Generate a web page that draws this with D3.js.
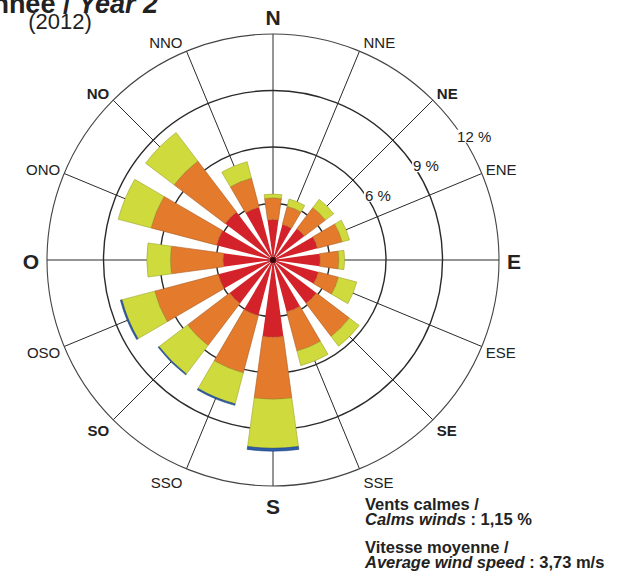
<!DOCTYPE html>
<html>
<head>
<meta charset="utf-8">
<script src="https://cdn.jsdelivr.net/npm/d3@7"></script>
<style>
  body { margin: 0; background: #fff; }
  svg { display: block; font-family: "Liberation Sans", Arial, sans-serif; }
</style>
</head>
<body>
<svg id="rose"></svg>
<script>
const W = 630, H = 577;
const cx = 273, cy = 260, R = 226;

// wind directions (French labels, clockwise from north)
const directions = ["N", "NNE", "NE", "ENE", "E", "ESE", "SE", "SSE",
                    "S", "SSO", "SO", "OSO", "O", "ONO", "NO", "NNO"];
const cardinals = ["N", "E", "S", "O"];
const boldDirs = ["NE", "SE", "SO", "NO"];

// frequency (%) per speed class, same order as directions
const speedClasses = ["c1", "c2", "c3", "c4"];
const class1 = [2.15, 1.95, 2.1, 2.45, 2.5, 2.5, 2.9, 2.85, 4.1, 3.05, 2.9, 3.0, 2.65, 3.1, 3.2, 2.9];
const class2 = [1.15, 1.0, 1.4, 1.35, 1.0, 1.1, 2.2, 2.15, 3.3, 3.15, 2.8, 3.5, 2.8, 3.6, 3.4, 1.6];
const class3 = [0.2, 0.4, 0.55, 0.4, 0.3, 1.0, 0.65, 0.8, 2.6, 1.7, 1.9, 1.8, 1.25, 1.8, 1.9, 0.9];
const class4 = [0, 0, 0, 0, 0, 0, 0, 0, 0.15, 0.08, 0.06, 0.08, 0, 0, 0, 0];
const classColors = ["#d3222a", "#e37a2c", "#cfdb3c", "#2d5ca8"];

const ringTicks = [3, 6, 9, 12];
const ringLabels = [6, 9, 12];

const svg = d3.select("#rose").attr("width", W).attr("height", H);
const g = svg.append("g").attr("transform", `translate(${cx},${cy})`);

const rows = directions.map((d, i) => ({
    dir: d, c1: class1[i], c2: class2[i], c3: class3[i], c4: class4[i]
}));

const stacked = d3.stack().keys(speedClasses)(rows);

const r = d3.scaleLinear().domain([0, 12]).range([0, R]);

const step = 2 * Math.PI / directions.length;
const ang = d3.scaleBand()
    .domain(directions)
    .range([-step / 2, 2 * Math.PI - step / 2])
    .paddingInner(0.31)
    .paddingOuter(0.155);

const pt = (a, rad) => [rad * Math.sin(a), -rad * Math.cos(a)];

// grid: spokes and rings
directions.forEach((d, i) => {
    const [x, y] = pt(i * step, R);
    g.append("line")
        .attr("x1", 0).attr("y1", 0).attr("x2", x).attr("y2", y)
        .attr("stroke", "#2a2a2a").attr("stroke-width", 1);
});

g.selectAll(".ring")
    .data(ringTicks)
    .join("circle")
    .attr("class", "ring")
    .attr("r", d => r(d))
    .attr("fill", "none")
    .attr("stroke", d => d === 12 ? "#444" : "#2a2a2a")
    .attr("stroke-width", d => d === 12 ? 1.1 : 1.4);

// bars
const arc = d3.arc()
    .innerRadius(d => r(d[0]))
    .outerRadius(d => r(d[1]))
    .startAngle(d => ang(d.data.dir))
    .endAngle(d => ang(d.data.dir) + ang.bandwidth());

g.selectAll(".layer")
    .data(stacked)
    .join("g")
    .attr("class", "layer")
    .attr("fill", (d, i) => classColors[i])
    .attr("stroke", (d, i) => i === 0 ? "none" : d3.color(classColors[i]).darker(0.8))
    .attr("stroke-width", 0.6)
    .selectAll("path")
    .data(d => d.filter(s => s[1] - s[0] > 0))
    .join("path")
    .attr("d", arc);

g.append("circle").attr("r", 3).attr("fill", "#3a0808");

// ring labels
const labA = 58.5 * Math.PI / 180;
ringLabels.forEach(v => {
    const [x, y] = pt(labA, r(v) + 10);
    const t = g.append("text")
        .attr("x", x).attr("y", y + 5)
        .attr("text-anchor", "middle")
        .attr("font-size", 15)
        .attr("fill", "#222")
        .text(`${v} %`);
    const bb = t.node().getBBox();
    g.insert("rect", "text")
        .attr("x", bb.x - 1).attr("y", bb.y + 2)
        .attr("width", bb.width + 2).attr("height", bb.height - 4)
        .attr("fill", "#fff");
});

// direction labels
directions.forEach((d, i) => {
    const a = i * step;
    const [x, y] = pt(a, R);
    if (cardinals.includes(d)) {
        const t = g.append("text")
            .attr("font-size", 21).attr("font-weight", "bold").attr("fill", "#222")
            .text(d);
        if (d === "N") t.attr("x", 0).attr("y", -R - 9).attr("text-anchor", "middle");
        if (d === "S") t.attr("x", 0).attr("y", R + 28).attr("text-anchor", "middle");
        if (d === "E") t.attr("x", R + 8).attr("y", 9).attr("text-anchor", "start");
        if (d === "O") t.attr("x", -R - 8).attr("y", 9).attr("text-anchor", "end");
        return;
    }
    const s = Math.sin(a), c = Math.cos(a);
    const dy = c > 0 ? -c * 9 : -c * 15;
    g.append("text")
        .attr("x", x + (s > 0 ? 4 : -4))
        .attr("y", y + dy + 5.3)
        .attr("text-anchor", s > 0 ? "start" : "end")
        .attr("font-size", 15)
        .attr("font-weight", boldDirs.includes(d) ? "bold" : "normal")
        .attr("fill", "#222")
        .text(d);
});

// title (cut at top of the picture)
const title = svg.append("text")
    .attr("x", 158).attr("y", 13)
    .attr("text-anchor", "end")
    .attr("font-size", 27).attr("font-weight", "bold").attr("fill", "#222");
title.append("tspan").text("Année / ");
title.append("tspan").attr("font-style", "italic").text("Year 2");

svg.append("text")
    .attr("x", 60).attr("y", 29)
    .attr("text-anchor", "middle")
    .attr("font-size", 22).attr("fill", "#222")
    .text("(2012)");

// notes
const notes = svg.append("g")
    .attr("font-size", 16.5).attr("font-weight", "bold").attr("fill", "#222");
notes.append("text").attr("x", 365).attr("y", 510).text("Vents calmes /");
const n2 = notes.append("text").attr("x", 365).attr("y", 525);
n2.append("tspan").attr("font-style", "italic").text("Calms winds");
n2.append("tspan").text(" : 1,15 %");
notes.append("text").attr("x", 365).attr("y", 553).text("Vitesse moyenne /");
const n4 = notes.append("text").attr("x", 365).attr("y", 568);
n4.append("tspan").attr("font-style", "italic").text("Average wind speed");
n4.append("tspan").text(" : 3,73 m/s");
</script>
</body>
</html>
